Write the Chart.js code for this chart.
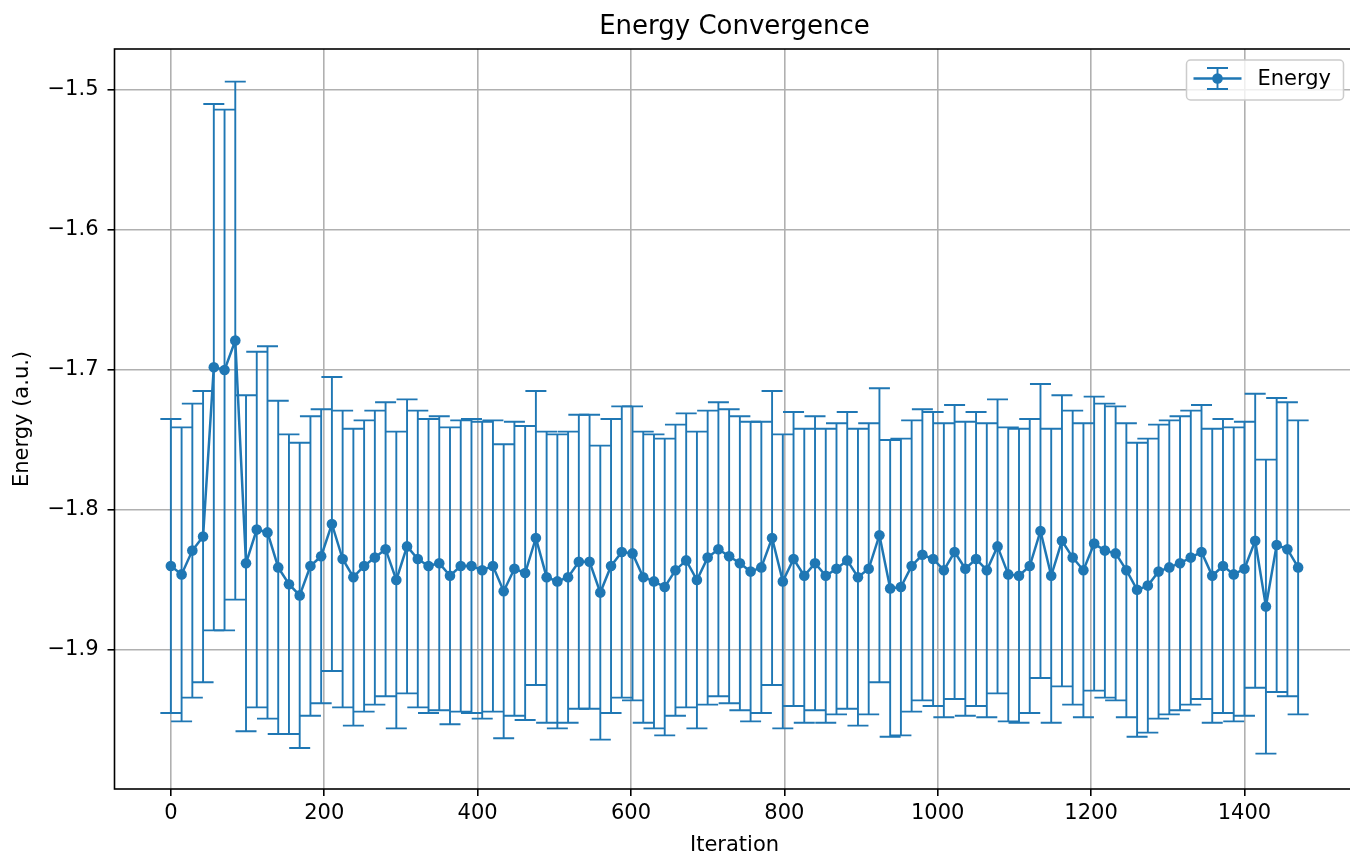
<!DOCTYPE html>
<html>
<head>
<meta charset="utf-8">
<title>Energy Convergence</title>
<script src="https://cdn.jsdelivr.net/npm/chart.js@4.4.1/dist/chart.umd.min.js"></script>
<style>
  html, body { margin: 0; padding: 0; overflow: hidden; background: #fff; }
  #wrap { width: 1365px; height: 856px; }
</style>
</head>
<body>
<div id="wrap"><canvas id="chartE" width="1365" height="856"></canvas></div>
<script>
// Iterations (x values)
const iterations = [0, 14, 28, 42, 56, 70, 84, 98, 112, 126, 140, 154, 168, 182, 196, 210, 224, 238, 252, 266,
  280, 294, 308, 322, 336, 350, 364, 378, 392, 406, 420, 434, 448, 462, 476, 490, 504, 518, 532, 546,
  560, 574, 588, 602, 616, 630, 644, 658, 672, 686, 700, 714, 728, 742, 756, 770, 784, 798, 812, 826,
  840, 854, 868, 882, 896, 910, 924, 938, 952, 966, 980, 994, 1008, 1022, 1036, 1050, 1064, 1078, 1092, 1106,
  1120, 1134, 1148, 1162, 1176, 1190, 1204, 1218, 1232, 1246, 1260, 1274, 1288, 1302, 1316, 1330, 1344, 1358, 1372, 1386,
  1400, 1414, 1428, 1442, 1456, 1470];

// Mean energy (a.u.)
const energy = [-1.840, -1.846, -1.829, -1.819, -1.698, -1.700, -1.679, -1.838, -1.814, -1.816,
  -1.841, -1.853, -1.861, -1.840, -1.833, -1.810, -1.835, -1.848, -1.840, -1.834,
  -1.828, -1.850, -1.826, -1.835, -1.840, -1.838, -1.847, -1.840, -1.840, -1.843,
  -1.840, -1.858, -1.842, -1.845, -1.820, -1.848, -1.851, -1.848, -1.837, -1.837,
  -1.859, -1.840, -1.830, -1.831, -1.848, -1.851, -1.855, -1.843, -1.836, -1.850,
  -1.834, -1.828, -1.833, -1.838, -1.844, -1.841, -1.820, -1.851, -1.835, -1.847,
  -1.838, -1.847, -1.842, -1.836, -1.848, -1.842, -1.818, -1.856, -1.855, -1.840,
  -1.832, -1.835, -1.843, -1.830, -1.842, -1.835, -1.843, -1.826, -1.846, -1.847,
  -1.840, -1.815, -1.847, -1.822, -1.834, -1.843, -1.824, -1.829, -1.831, -1.843,
  -1.857, -1.854, -1.844, -1.841, -1.838, -1.834, -1.830, -1.847, -1.840, -1.846,
  -1.842, -1.822, -1.869, -1.825, -1.828, -1.841];

// Error bar half-length
const energyErr = [0.105, 0.105, 0.105, 0.104, 0.188, 0.186, 0.185, 0.120, 0.127, 0.133,
  0.119, 0.107, 0.109, 0.107, 0.105, 0.105, 0.106, 0.106, 0.104, 0.105,
  0.105, 0.106, 0.105, 0.106, 0.105, 0.105, 0.106, 0.104, 0.105, 0.106,
  0.104, 0.105, 0.105, 0.105, 0.105, 0.104, 0.105, 0.104, 0.105, 0.105,
  0.105, 0.105, 0.104, 0.105, 0.104, 0.105, 0.106, 0.104, 0.105, 0.106,
  0.105, 0.105, 0.105, 0.105, 0.107, 0.104, 0.105, 0.105, 0.105, 0.105,
  0.105, 0.105, 0.104, 0.106, 0.106, 0.104, 0.105, 0.106, 0.106, 0.104,
  0.104, 0.105, 0.105, 0.105, 0.105, 0.105, 0.105, 0.105, 0.105, 0.105,
  0.105, 0.105, 0.105, 0.104, 0.105, 0.105, 0.105, 0.105, 0.105, 0.105,
  0.105, 0.105, 0.105, 0.105, 0.105, 0.105, 0.105, 0.105, 0.105, 0.105,
  0.105, 0.105, 0.105, 0.105, 0.105, 0.105];

const xTicks = [0, 200, 400, 600, 800, 1000, 1200, 1400];
const yTicks = [-1.9, -1.8, -1.7, -1.6, -1.5];

const blue = '#1f77b4';
const fam = '"DejaVu Sans", sans-serif';
const capHalf = 10.5;

// Error bars drawn under the line and markers
const errorBars = {
  id: 'errorBars',
  beforeDatasetsDraw(chart) {
    const { ctx, scales: { x, y } } = chart;
    ctx.save();
    ctx.strokeStyle = blue;
    ctx.lineWidth = 1.9;
    iterations.forEach((it, i) => {
      const px = x.getPixelForValue(it);
      const top = y.getPixelForValue(energy[i] + energyErr[i]);
      const bot = y.getPixelForValue(energy[i] - energyErr[i]);
      ctx.beginPath();
      ctx.moveTo(px, top); ctx.lineTo(px, bot);
      ctx.moveTo(px - capHalf, top); ctx.lineTo(px + capHalf, top);
      ctx.moveTo(px - capHalf, bot); ctx.lineTo(px + capHalf, bot);
      ctx.stroke();
    });
    ctx.restore();
  }
};

// Axes frame, title over the axes, matplotlib-like legend
const frameLegend = {
  id: 'frameLegend',
  afterDatasetsDraw(chart) {
    const { ctx, chartArea: a } = chart;
    ctx.save();
    ctx.strokeStyle = '#000';
    ctx.lineWidth = 1.6;
    ctx.strokeRect(a.left, a.top, a.right - a.left, a.bottom - a.top);
    ctx.restore();
  },
  afterDraw(chart) {
    const { ctx, chartArea: a } = chart;
    ctx.save();
    ctx.fillStyle = '#000';
    ctx.font = '26px ' + fam;
    ctx.textAlign = 'center';
    ctx.textBaseline = 'alphabetic';
    ctx.fillText('Energy Convergence', (a.left + a.right) / 2, 34);

    const w = 157, h = 40;
    const bx = a.right - 11 - w, by = a.top + 11;
    ctx.beginPath();
    ctx.roundRect(bx, by, w, h, 4);
    ctx.fillStyle = 'rgba(255,255,255,0.8)';
    ctx.fill();
    ctx.strokeStyle = '#cccccc';
    ctx.lineWidth = 1.5;
    ctx.stroke();

    const cy = by + h / 2 - 1.5;
    const mx = bx + 31;
    ctx.strokeStyle = blue;
    ctx.lineWidth = 2.5;
    ctx.beginPath();
    ctx.moveTo(bx + 7, cy); ctx.lineTo(bx + 55, cy);
    ctx.stroke();
    ctx.lineWidth = 1.9;
    ctx.beginPath();
    ctx.moveTo(mx, cy - 10.5); ctx.lineTo(mx, cy + 10.5);
    ctx.moveTo(mx - capHalf, cy - 10.5); ctx.lineTo(mx + capHalf, cy - 10.5);
    ctx.moveTo(mx - capHalf, cy + 10.5); ctx.lineTo(mx + capHalf, cy + 10.5);
    ctx.stroke();
    ctx.fillStyle = blue;
    ctx.beginPath();
    ctx.arc(mx, cy, 5.3, 0, Math.PI * 2);
    ctx.fill();

    ctx.fillStyle = '#000';
    ctx.font = '21px ' + fam;
    ctx.textBaseline = 'middle';
    ctx.textAlign = 'left';
    ctx.fillText('Energy', bx + 71, cy + 1);
    ctx.restore();
  }
};

new Chart(document.getElementById('chartE'), {
  type: 'line',
  data: {
    datasets: [{
      label: 'Energy',
      data: iterations.map((it, i) => ({ x: it, y: energy[i] })),
      borderColor: blue,
      backgroundColor: blue,
      borderWidth: 2.5,
      pointRadius: 5.3,
      pointHoverRadius: 5.3,
      pointBorderWidth: 0,
      tension: 0,
      fill: false
    }]
  },
  options: {
    responsive: false,
    animation: false,
    events: [],
    layout: { padding: { left: 0, right: 10.5, top: 49, bottom: 0 } },
    plugins: {
      legend: { display: false },
      tooltip: { enabled: false },
      title: { display: false }
    },
    scales: {
      x: {
        type: 'linear',
        min: -73.5,
        max: 1543.5,
        afterBuildTicks: s => { s.ticks = xTicks.map(v => ({ value: v })); },
        afterFit: s => { s.height = 67; },
        border: { display: false },
        grid: { color: '#b0b0b0', lineWidth: 1.6, tickLength: 7, tickColor: '#000', tickWidth: 1.6 },
        ticks: { color: '#000', font: { family: fam, size: 21 }, padding: 5, maxRotation: 0, callback: v => String(v) },
        title: {
          display: true, text: 'Iteration', color: '#000',
          font: { family: fam, size: 21, lineHeight: 1 }, padding: { top: 0, bottom: 0 }
        }
      },
      y: {
        type: 'linear',
        min: -1.9993,
        max: -1.4707,
        afterBuildTicks: s => { s.ticks = yTicks.map(v => ({ value: v })); },
        afterFit: s => { s.width = 114.5; },
        border: { display: false },
        grid: { color: '#b0b0b0', lineWidth: 1.6, tickLength: 7, tickColor: '#000', tickWidth: 1.6 },
        ticks: {
          color: '#000', font: { family: fam, size: 21 }, padding: 9,
          callback: v => (v < 0 ? '\u2212' : '') + Math.abs(v).toFixed(1)
        },
        title: {
          display: true, text: 'Energy (a.u.)', color: '#000',
          font: { family: fam, size: 21, lineHeight: 1 }, padding: { top: 12, bottom: 0 }
        }
      }
    }
  },
  plugins: [errorBars, frameLegend]
});
</script>
</body>
</html>
